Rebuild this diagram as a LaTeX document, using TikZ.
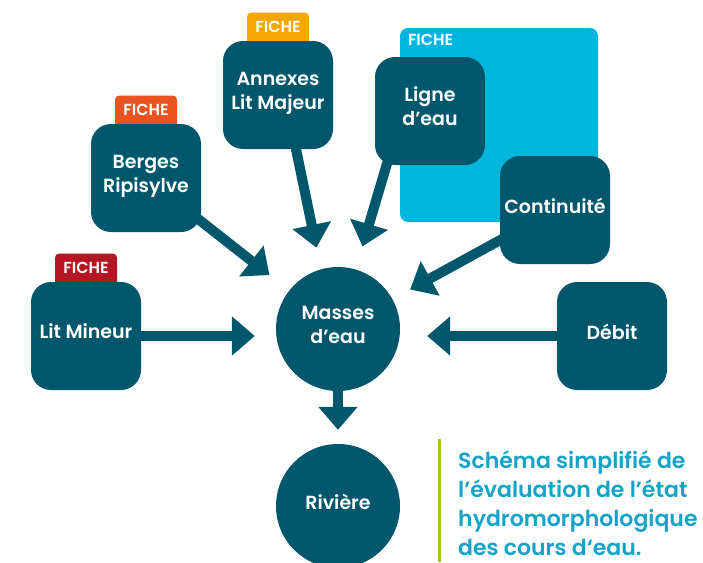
\documentclass[tikz,border=0pt]{standalone}
\usepackage{fontspec}
\setmainfont{Poppins}[BoldFont={Poppins SemiBold}]
\usetikzlibrary{arrows.meta}
\usetikzlibrary{positioning}
\usetikzlibrary{backgrounds}

\definecolor{bleunuit}{RGB}{0,87,108}
\definecolor{cyanfiche}{RGB}{0,182,222}
\definecolor{cyanlegende}{RGB}{22,163,200}
\definecolor{orfiche}{RGB}{245,166,0}
\definecolor{orangefiche}{RGB}{232,83,30}
\definecolor{rougefiche}{RGB}{180,22,36}
\definecolor{vertbarre}{RGB}{160,196,30}

\tikzset{
	bloc/.style={fill=bleunuit, rounded corners=20pt, minimum width=110pt, minimum height=108pt, inner sep=2pt, text depth=9pt, text=white, align=center, font=\bfseries\fontsize{19}{24}\selectfont},
	rond/.style={circle, fill=bleunuit, minimum size=124pt, inner sep=2pt, text depth=9pt, text=white, align=center, font=\bfseries\fontsize{19}{24}\selectfont},
	onglet/.style={rounded corners=4pt, minimum width=62pt, minimum height=36pt, text depth=8pt, inner sep=0pt, text=white, font=\bfseries\fontsize{16}{18}\selectfont},
	fleche/.style={line width=10pt, draw=bleunuit, -{Triangle[length=23pt, width=38pt]}}
}

\begin{document}
\begin{tikzpicture}[x=1pt, y=-1pt]

	\path[use as bounding box] (0,0) rectangle (703,562);
	\clip (0,0) rectangle (703,562);

	% fiche ligne d'eau
	\node[fill=cyanfiche, rounded corners=8pt, minimum width=198pt, minimum height=194pt] (zoneligne) at (499,125) {};
	\node[anchor=north west, inner sep=0pt, text=white, font=\bfseries\fontsize{16}{18}\selectfont] (ficheligne) at ([xshift=8pt, yshift=-6pt]zoneligne.north west) {FICHE};

	% compartiments
	\node[bloc] (litmineur) at (86,336) {Lit Mineur};
	\node[bloc] (berges) at (146,178) {Berges\\Ripisylve};
	\node[bloc] (annexes) at (278,95) {Annexes\\Lit Majeur};
	\node[bloc] (ligne) at (430,111) {Ligne\\d’eau};
	\node[bloc] (continuite) at (555,210) {Continuité};
	\node[bloc] (debit) at (612,336) {Débit};

	\node[rond] (masses) at (338,329) {Masses\\d’eau};
	\node[rond] (riviere) at (338,506) {Rivière};

	\begin{pgfonlayer}{background}
		% onglets
		\node[onglet, fill=orfiche, above=-8pt of annexes] (ongletannexes) {FICHE};
		\node[onglet, fill=orangefiche, above=-8pt of berges] (ongletberges) {FICHE};
		\node[onglet, fill=rougefiche, above=-8pt of litmineur] (ongletmineur) {FICHE};

		% fleches
		\draw[fleche, shorten >=21pt] (litmineur.center) -- (litmineur.center -| masses.west);
		\draw[fleche, shorten >=25pt] (berges.center) -- (masses);
		\draw[fleche, shorten >=22pt] ([xshift=17pt, yshift=5pt]annexes.south) -- (masses.106);
		\draw[fleche, shorten >=24pt] ([xshift=-42pt, yshift=5pt]ligne.south) -- (masses);
		\draw[fleche, shorten >=20pt] (continuite.center) -- (masses);
		\draw[fleche, shorten >=27pt] (debit.center) -- (debit.center -| masses.east);
		\draw[fleche, shorten >=14pt] (masses.center) -- (riviere);
	\end{pgfonlayer}

	% legende
	\node[anchor=base west, align=left, inner sep=0pt, text=cyanlegende, font=\bfseries\fontsize{22}{29}\selectfont] (legende) at (458,555) {Schéma simplifié de\\l’évaluation de l’état\\hydromorphologique\\des cours d‘eau.};
	\draw[line width=3pt, vertbarre] (439.5,439) -- (439.5,562);

\end{tikzpicture}
\end{document}
